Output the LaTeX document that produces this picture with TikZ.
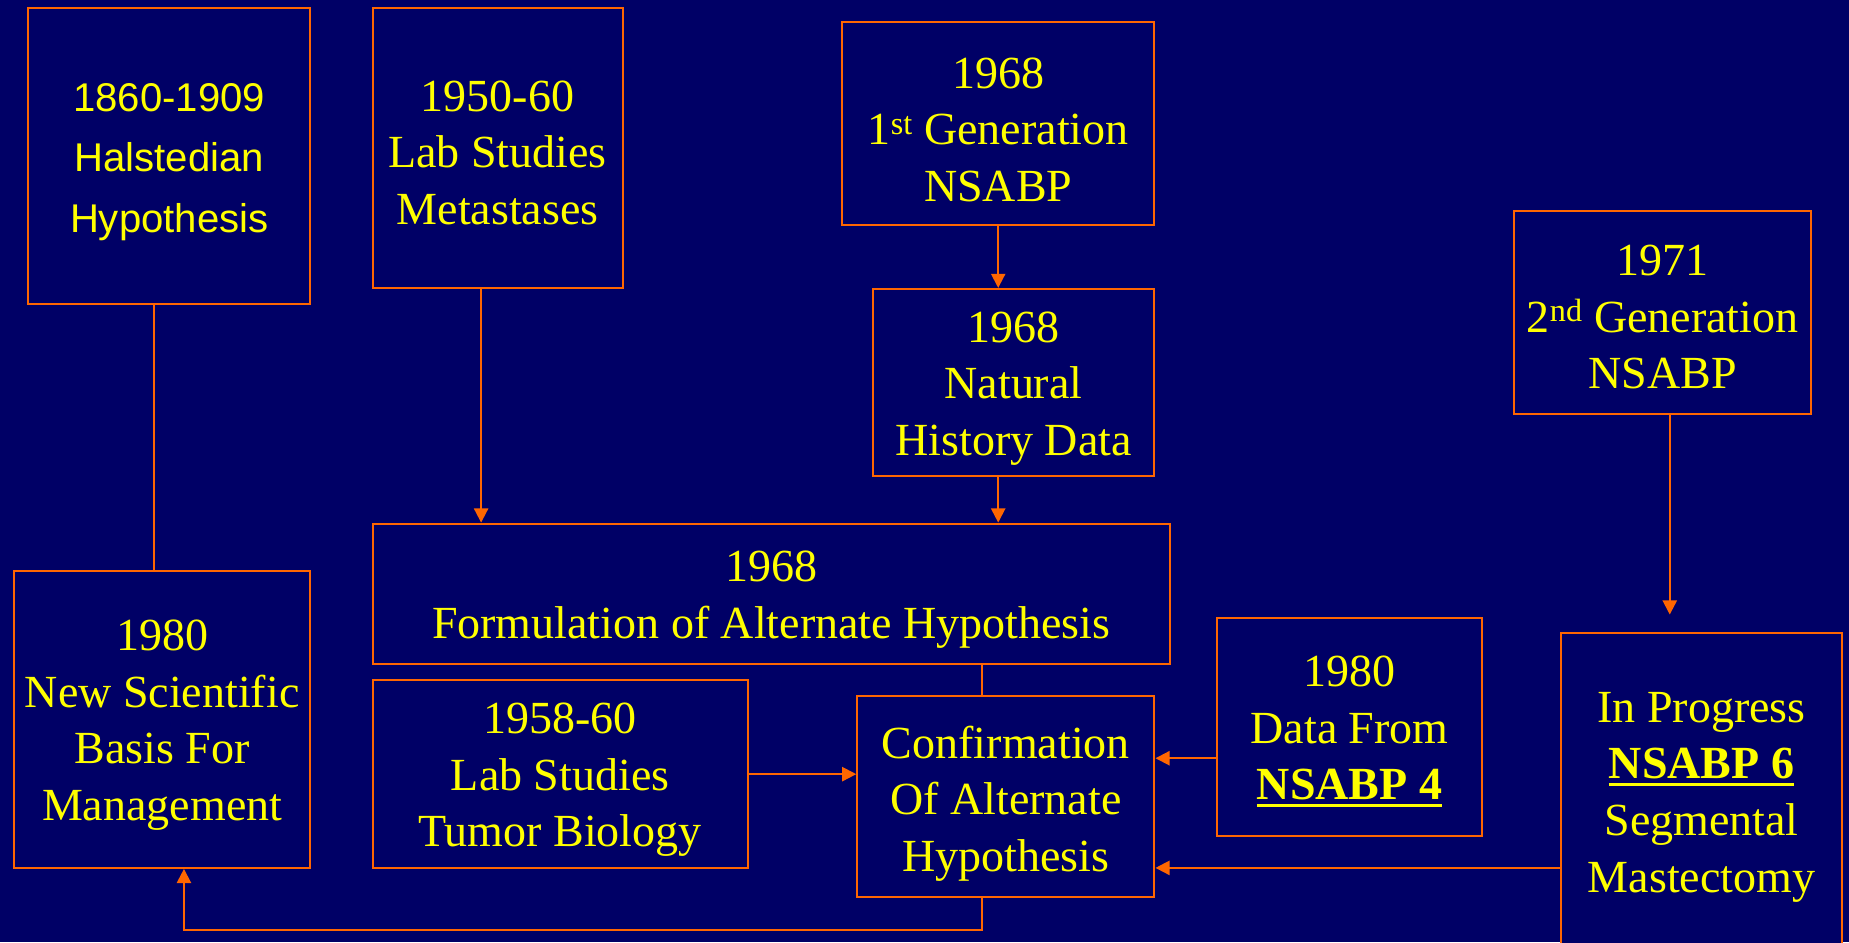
\documentclass[tikz,border=0pt]{standalone}
\usepackage{fontspec}
\setmainfont{Liberation Serif}
\newfontfamily\sansf{Liberation Sans}
\usetikzlibrary{arrows.meta}
\definecolor{bg}{HTML}{000066}
\definecolor{bd}{HTML}{FF6600}
\definecolor{tx}{HTML}{FFFF00}
\newcommand{\ulbf}[1]{\setbox0\hbox{\bfseries #1}\rlap{\raisebox{-0.16em}{\rule{\wd0}{0.08em}}}\box0}
\begin{document}
\begin{tikzpicture}[x=1pt,y=-1pt,
  box/.style={draw=bd, line width=1.7pt, fill=bg, inner sep=0pt},
  txt/.style={text=tx, align=center, inner sep=0pt, font=\fontsize{39}{48}\selectfont},
  stxt/.style={txt, font=\sansf\fontsize{34}{51}\selectfont},
  conn/.style={draw=bd, line width=1.7pt},
  arr/.style={conn, -{Triangle[length=12pt,width=12pt]}}]
\fill[bg] (0,0) rectangle (1568,799);
\useasboundingbox (0,0) rectangle (1568,799);

\node[box, minimum width=239pt, minimum height=251pt] (A) at (143.5,132.5) {};
\node[box, minimum width=212pt, minimum height=237pt] (B) at (422,125.5) {};
\node[box, minimum width=265pt, minimum height=172pt] (C) at (846.5,105) {};
\node[box, minimum width=239pt, minimum height=159pt] (D) at (859.5,324.5) {};
\node[box, minimum width=252pt, minimum height=172pt] (E) at (1410,265) {};
\node[box, minimum width=676pt, minimum height=119pt] (F) at (654,503.5) {};
\node[box, minimum width=251pt, minimum height=252pt] (G) at (137.5,610) {};
\node[box, minimum width=318pt, minimum height=159pt] (H) at (475,656.5) {};
\node[box, minimum width=252pt, minimum height=171pt] (I) at (853,675.5) {};
\node[box, minimum width=225pt, minimum height=185pt] (J) at (1144.5,616.5) {};
\node[box, minimum width=238pt, minimum height=270pt] (K) at (1443,672) {};

\node[stxt] (At) at ([yshift=-5pt]A.center) {1860-1909\\Halstedian\\Hypothesis};
\node[txt] (Bt) at ([yshift=-4pt]B.center) {1950-60\\Lab Studies\\Metastases};
\node[txt] (Ct) at ([yshift=-5pt]C.center) {1968\\1\textsuperscript{st} Generation\\NSABP};
\node[txt] (Dt) at ([yshift=-5pt]D.center) {1968\\Natural\\History Data};
\node[txt] (Et) at ([yshift=-4pt]E.center) {1971\\2\textsuperscript{nd} Generation\\NSABP};
\node[txt] (Ft) at ([yshift=-5pt]F.center) {1968\\Formulation of Alternate Hypothesis};
\node[txt] (Gt) at ([yshift=-5pt]G.center) {1980\\New Scientific\\Basis For\\Management};
\node[txt] (Ht) at ([yshift=-5pt]H.center) {1958-60\\Lab Studies\\Tumor Biology};
\node[txt] (It) at ([yshift=-6pt]I.center) {Confirmation\\Of Alternate\\Hypothesis};
\node[txt] (Jt) at ([yshift=-4pt]J.center) {1980\\Data From\\\ulbf{NSABP 4}};
\node[txt] (Kt) at ([yshift=-4pt]K.center) {In Progress\\\ulbf{NSABP 6}\\Segmental\\Mastectomy};

\coordinate (xa) at (131,0);
\coordinate (xb) at (408,0);
\coordinate (xe) at (1416,0);
\coordinate (xi) at (833,0);
\coordinate (xg) at (156,0);
\coordinate (yj) at (0,643);
\coordinate (yk) at (0,736);
\coordinate (yb) at (0,789);

\draw[conn] (A.south -| xa) -- (G.north -| xa);
\draw[arr] (B.south -| xb) -- (F.north -| xb);
\draw[arr] (C.south) -- (D.north -| C.south);
\draw[arr] (D.south -| C.south) -- (F.north -| C.south);
\draw[arr, shorten >=15pt] (E.south -| xe) -- (K.north -| xe);
\draw[conn] (F.south -| xi) -- (I.north -| xi);
\draw[arr] (H.east) -- (H.east -| I.west);
\draw[arr] (J.west |- yj) -- (I.east |- yj);
\draw[arr] (K.west |- yk) -- (I.east |- yk);
\draw[arr] (I.south -| xi) -- (xi |- yb) -| (G.south -| xg);
\end{tikzpicture}
\end{document}
